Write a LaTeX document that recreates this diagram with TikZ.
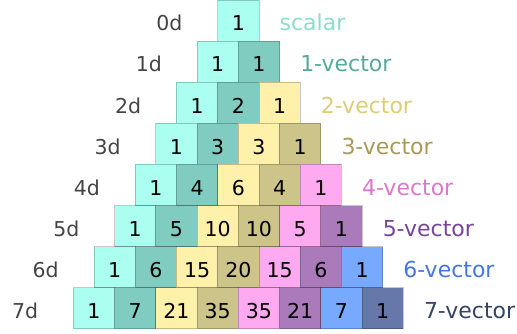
\documentclass[tikz,border=0pt]{standalone}
\usepackage{fontspec}
\setmainfont{DejaVu Sans}
\definecolor{c0}{HTML}{AAFFF0}
\definecolor{c1}{HTML}{80CCC0}
\definecolor{c2}{HTML}{FFF0AA}
\definecolor{c3}{HTML}{CCC488}
\definecolor{c4}{HTML}{FFAAF0}
\definecolor{c5}{HTML}{AA7ABB}
\definecolor{c6}{HTML}{77AAFF}
\definecolor{c7}{HTML}{6677AA}
\definecolor{v0}{HTML}{88DDCC}
\definecolor{v1}{HTML}{55AA99}
\definecolor{v2}{HTML}{DDCC77}
\definecolor{v3}{HTML}{AA9955}
\definecolor{v4}{HTML}{DD77CC}
\definecolor{v5}{HTML}{774499}
\definecolor{v6}{HTML}{4477DD}
\definecolor{v7}{HTML}{334466}
\definecolor{dgray}{HTML}{444444}
\begin{document}
\begin{tikzpicture}[x=1pt,y=-1pt,
  cell/.style={draw=black, draw opacity=0.22, line width=0.8pt,
    minimum width=41.25pt, minimum height=41.1pt, inner sep=0pt,
    text height=20.6pt, text depth=0pt, text=black,
    font=\fontsize{20.5}{24}\selectfont},
  dlab/.style={anchor=base east, inner sep=0pt, text=dgray,
    font=\fontsize{20.5}{24}\selectfont},
  vlab/.style={anchor=base west, inner sep=0pt,
    font=\fontsize{22}{26}\selectfont}]
\useasboundingbox (0,0) rectangle (517,334);
\foreach \row [count=\k from 0] in {{1},{1,1},{1,2,1},{1,3,3,1},{1,4,6,4,1},{1,5,10,10,5,1},{1,6,15,20,15,6,1},{1,7,21,35,35,21,7,1}} {
  \foreach \v [count=\j from 0] in \row {
    \node[cell, fill=c\j] (c-\k-\j) at ({238.3+(\j-\k/2)*41.25}, {20.55+41.1*\k}) {\v};
  }
  \node[dlab] (d-\k) at ({238.3-(\k+1)/2*41.25-35}, {30.85+41.1*\k}) {\k d};
}
\foreach \lab [count=\k from 0] in {scalar,1-vector,2-vector,3-vector,4-vector,5-vector,6-vector,7-vector} {
  \node[vlab, text=v\k] (v-\k) at ({238.3+(\k+1)/2*41.25+20.5}, {30.85+41.1*\k}) {\lab};
}
\end{tikzpicture}
\end{document}
